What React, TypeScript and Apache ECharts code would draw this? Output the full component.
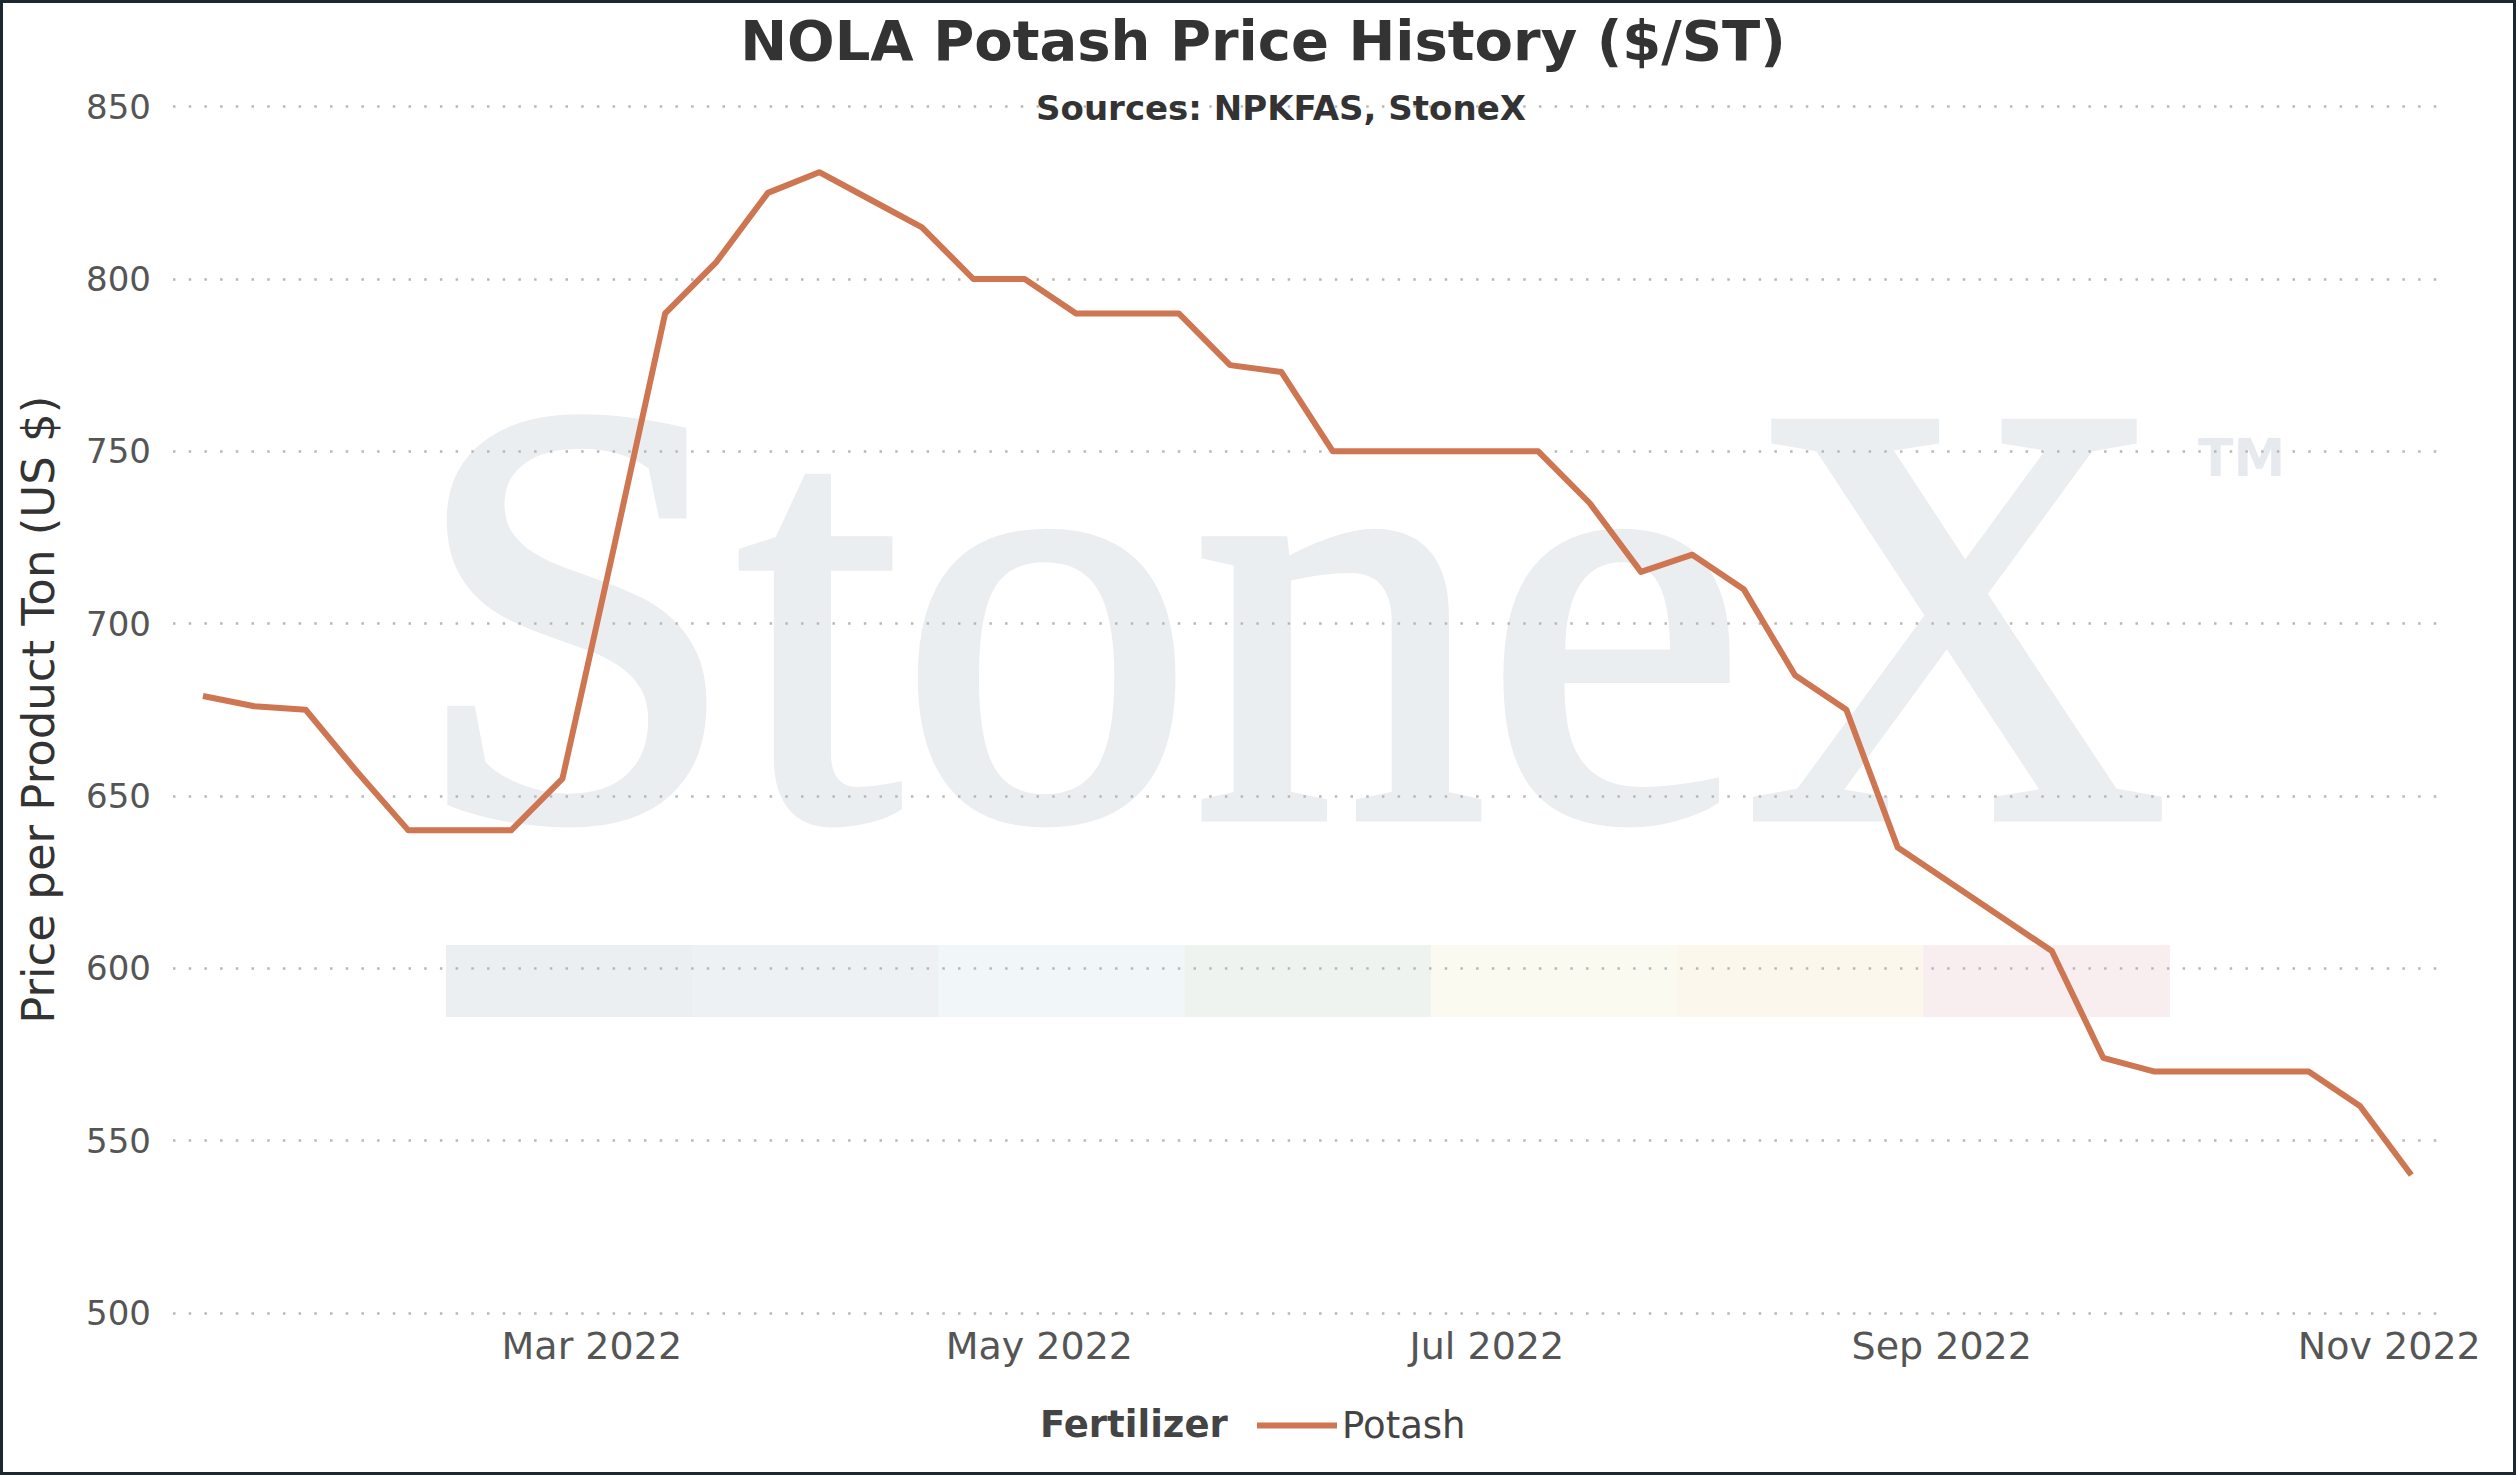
import React, { useEffect, useRef } from "react";
import * as echarts from "echarts";

const dates = [
  "2022-01-07", "2022-01-14", "2022-01-21", "2022-01-28", "2022-02-04", "2022-02-11",
  "2022-02-18", "2022-02-25", "2022-03-04", "2022-03-11", "2022-03-18", "2022-03-25",
  "2022-04-01", "2022-04-08", "2022-04-15", "2022-04-22", "2022-04-29", "2022-05-06",
  "2022-05-13", "2022-05-20", "2022-05-27", "2022-06-03", "2022-06-10", "2022-06-17",
  "2022-06-24", "2022-07-01", "2022-07-08", "2022-07-15", "2022-07-22", "2022-07-29",
  "2022-08-05", "2022-08-12", "2022-08-19", "2022-08-26", "2022-09-02", "2022-09-09",
  "2022-09-16", "2022-09-23", "2022-09-30", "2022-10-07", "2022-10-14", "2022-10-21",
  "2022-10-28", "2022-11-04",
];

const potash = [
  679, 676, 675, 657, 640, 640,
  640, 655, 722, 790, 805, 825,
  831, 823, 815, 800, 800, 790,
  790, 790, 775, 773, 750, 750,
  750, 750, 750, 735, 715, 720,
  710, 685, 675, 635, 625, 615,
  605, 574, 570, 570, 570, 570,
  560, 540,
];

const tickDates = ["2022-03-01", "2022-05-01", "2022-07-01", "2022-09-01", "2022-11-01"];
const tickLabels = ["Mar 2022", "May 2022", "Jul 2022", "Sep 2022", "Nov 2022"];

const yTicks = [500, 550, 600, 650, 700, 750, 800, 850];

const bandColors = ["#eceff2", "#edf1f4", "#f1f6f9", "#eef3f0", "#fbfaf0", "#fbf7ec", "#f8eef0"];

const toTime = (s: string, h = 0) => {
  const [y, m, d] = s.split("-").map(Number);
  return Date.UTC(y, m - 1, d, h);
};

export default function App() {
  const ref = useRef<HTMLDivElement>(null);

  useEffect(() => {
    document.body.style.margin = "0";
    const chart = echarts.init(ref.current!, null, { renderer: "svg" });
    const font = "'DejaVu Sans', Verdana, sans-serif";
    const tickTimes = tickDates.map((d) => toTime(d));

    const bandX0 = 446;
    const bandW = 246.2;
    const band = bandColors.map((c, i) => ({
      type: "rect",
      z: -5,
      shape: { x: bandX0 + i * bandW, y: 945, width: bandW + 0.5, height: 72 },
      style: { fill: c },
      silent: true,
    }));

    chart.setOption({
      animation: false,
      backgroundColor: "#ffffff",
      title: [
        {
          text: "NOLA Potash Price History ($/ST)",
          left: 1258,
          top: 5,
          textAlign: "center",
          textStyle: { fontFamily: font, fontSize: 56, fontWeight: "bold", color: "#333333", lineHeight: 60 },
        },
        {
          text: "Sources: NPKFAS, StoneX",
          left: 1276,
          top: 84,
          textAlign: "center",
          textStyle: { fontFamily: font, fontSize: 34, fontWeight: "bold", color: "#333333", lineHeight: 38 },
        },
      ],
      grid: { left: 173, right: 79, top: 106.7, bottom: 162.2, containLabel: false },
      legend: {
        left: 1252,
        top: 1402,
        itemWidth: 80,
        itemHeight: 44,
        icon: "path://M0,19 L80,19 L80,25 L0,25 Z",
        data: ["Potash"],
        textStyle: { fontFamily: font, fontSize: 37, color: "#444444" },
      },
      xAxis: {
        type: "value",
        min: toTime("2022-01-02", 22),
        max: toTime("2022-11-07", 12),
        axisLine: { show: false },
        axisTick: { show: false },
        splitLine: { show: false },
        axisLabel: {
          customValues: tickTimes,
          fontFamily: font,
          fontSize: 38,
          color: "#555555",
          margin: 14,
          hideOverlap: false,
          formatter: (v: number) => {
            const i = tickTimes.indexOf(v);
            return i >= 0 ? tickLabels[i] : "";
          },
        },
      },
      yAxis: {
        type: "value",
        min: yTicks[0],
        max: yTicks[yTicks.length - 1],
        interval: 50,
        name: "Price per Product Ton (US $)",
        nameLocation: "middle",
        nameGap: 112,
        nameTextStyle: { fontFamily: font, fontSize: 45, color: "#333333" },
        axisLine: { show: false },
        axisTick: { show: false },
        axisLabel: { fontFamily: font, fontSize: 34, color: "#555555", margin: 22 },
        splitLine: {
          show: true,
          lineStyle: { color: "#b8b8b8", width: 2.5, type: [2.5, 13.2] },
        },
      },
      graphic: [
        ...band,
        {
          type: "text",
          z: -4,
          x: 1290,
          y: 914,
          scaleX: 0.975,
          silent: true,
          style: {
            text: "StoneX",
            fontFamily: "'Liberation Serif', 'DejaVu Serif', serif",
            fontSize: 600,
            fill: "#eaeef1",
            stroke: "#eaeef1",
            lineWidth: 10,
            align: "center",
            verticalAlign: "bottom",
          },
        },
        {
          type: "text",
          z: -4,
          x: 2198,
          y: 432,
          silent: true,
          style: {
            text: "TM",
            fontFamily: font,
            fontSize: 52,
            fontWeight: "bold",
            fill: "#e6eaee",
            align: "left",
            verticalAlign: "top",
          },
        },
        {
          type: "text",
          x: 1040,
          y: 1424,
          style: {
            text: "Fertilizer",
            fontFamily: font,
            fontSize: 37,
            fontWeight: "bold",
            fill: "#444444",
            align: "left",
            verticalAlign: "middle",
          },
        },
        {
          type: "rect",
          z: 100,
          silent: true,
          shape: { x: 1.5, y: 1.5, width: 2513, height: 1472 },
          style: { fill: "none", stroke: "#1d2833", lineWidth: 3 },
        },
      ],
      series: [
        {
          name: "Potash",
          type: "line",
          showSymbol: false,
          symbol: "none",
          data: dates.map((d, i) => [toTime(d), potash[i]]),
          lineStyle: { color: "#cd7651", width: 6, join: "round" },
          itemStyle: { color: "#cd7651" },
          z: 3,
        },
      ],
    });

    return () => chart.dispose();
  }, []);

  return (
    <div
      ref={ref}
      style={{ position: "fixed", left: 0, top: 0, width: 2516, height: 1475 }}
    />
  );
}
